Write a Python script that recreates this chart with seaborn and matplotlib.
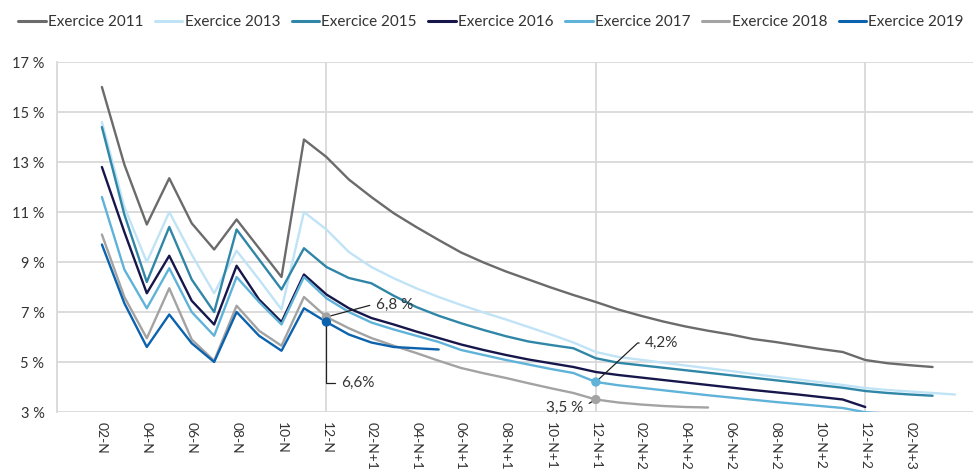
import pandas as pd
import seaborn as sns
import matplotlib.pyplot as plt
from matplotlib.lines import Line2D

# monthly values, first value = month 02-N
start_month = 2
ex2011 = [16.0, 12.9, 10.5, 12.35, 10.55, 9.5, 10.7, 9.55, 8.4, 13.9, 13.2, 12.3, 11.6, 10.95,
          10.4, 9.88, 9.38, 8.98, 8.62, 8.3, 7.98, 7.68, 7.4, 7.1, 6.85, 6.62, 6.42, 6.25, 6.1,
          5.92, 5.8, 5.66, 5.52, 5.4, 5.08, 4.95, 4.87, 4.8]
ex2013 = [14.6, 11.2, 9.0, 11.0, 9.3, 7.75, 9.45, 8.3, 7.1, 11.0, 10.3, 9.4, 8.8, 8.35, 7.95,
          7.6, 7.28, 6.98, 6.7, 6.4, 6.1, 5.78, 5.4, 5.2, 5.09, 4.97, 4.86, 4.75, 4.64, 4.52,
          4.41, 4.3, 4.19, 4.08, 3.96, 3.88, 3.82, 3.76, 3.7]
ex2015 = [14.4, 10.9, 8.2, 10.4, 8.3, 7.0, 10.3, 9.1, 7.9, 9.55, 8.8, 8.36, 8.15, 7.65, 7.2,
          6.85, 6.55, 6.28, 6.03, 5.82, 5.68, 5.55, 5.15, 4.97, 4.87, 4.77, 4.67, 4.57, 4.47,
          4.37, 4.27, 4.17, 4.07, 3.97, 3.84, 3.76, 3.7, 3.65]
ex2016 = [12.8, 10.2, 7.75, 9.25, 7.45, 6.5, 8.85, 7.5, 6.6, 8.5, 7.7, 7.15, 6.76, 6.5, 6.22,
          5.96, 5.7, 5.48, 5.28, 5.1, 4.95, 4.8, 4.6, 4.48, 4.38, 4.28, 4.18, 4.08, 3.98, 3.88,
          3.79, 3.7, 3.6, 3.5, 3.2]
ex2017 = [11.6, 8.7, 7.15, 8.75, 7.0, 6.05, 8.4, 7.4, 6.5, 8.4, 7.55, 7.0, 6.58, 6.3, 6.05,
          5.8, 5.48, 5.28, 5.08, 4.9, 4.72, 4.56, 4.2, 4.07, 3.97, 3.87, 3.77, 3.67, 3.58, 3.49,
          3.4, 3.32, 3.24, 3.16, 2.99, 2.93, 2.88]
ex2018 = [10.1, 7.6, 5.95, 7.95, 5.9, 5.05, 7.25, 6.25, 5.65, 7.6, 6.8, 6.35, 5.96, 5.65, 5.36,
          5.05, 4.76, 4.55, 4.36, 4.15, 3.95, 3.76, 3.5, 3.38, 3.3, 3.24, 3.2, 3.18]
ex2019 = [9.7, 7.35, 5.6, 6.9, 5.75, 5.0, 7.0, 6.05, 5.45, 7.15, 6.6, 6.1, 5.78, 5.6, 5.55, 5.5]

series_names = ['Exercice 2011', 'Exercice 2013', 'Exercice 2015', 'Exercice 2016',
                'Exercice 2017', 'Exercice 2018', 'Exercice 2019']
series_values = [ex2011, ex2013, ex2015, ex2016, ex2017, ex2018, ex2019]
colors = ['#6b6b6b', '#c0e3f6', '#2f86a6', '#16164a', '#5fb2d8', '#a3a3a3', '#0b62ad']

tick_months = list(range(2, 39, 2))
tick_labels = ['02-N', '04-N', '06-N', '08-N', '10-N', '12-N',
               '02-N+1', '04-N+1', '06-N+1', '08-N+1', '10-N+1', '12-N+1',
               '02-N+2', '04-N+2', '06-N+2', '08-N+2', '10-N+2', '12-N+2', '02-N+3']

# annotated points: (series, month, label)
callouts = [('Exercice 2018', 12, '6,8 %'), ('Exercice 2019', 12, '6,6%'),
            ('Exercice 2017', 24, '4,2%'), ('Exercice 2018', 24, '3,5 %')]

rows = []
for name, vals in zip(series_names, series_values):
    for i, v in enumerate(vals):
        rows.append({'exercice': name, 'mois': start_month + i, 'taux': v})
df = pd.DataFrame(rows)

sns.set_style('white')
plt.rcParams['font.family'] = ['Lato', 'DejaVu Sans']
grid_c = '#d9d9d9'
text_c = '#333333'

fig = plt.figure(figsize=(9.73, 4.71), dpi=100)
ax = fig.add_axes([57 / 973, 1 - 412 / 471, 1 - 57 / 973, 350 / 471])

palette = dict(zip(series_names, colors))
sns.lineplot(data=df, x='mois', y='taux', hue='exercice', hue_order=series_names,
             palette=palette, linewidth=1.7, estimator=None, legend=False, ax=ax)

pts = pd.DataFrame([{'exercice': s, 'mois': m, 'label': lab,
                     'taux': df[(df.exercice == s) & (df.mois == m)].taux.iloc[0]}
                    for s, m, lab in callouts])
sns.scatterplot(data=pts, x='mois', y='taux', hue='exercice', palette=palette,
                s=45, edgecolor='none', legend=False, ax=ax, zorder=5)

# label offsets (months, pct), alignment and leader angle
offsets = [(2.2, 0.48, 'left', 15), (0.65, -2.44, 'left', 90),
           (2.2, 1.56, 'left', 43), (-0.55, -0.34, 'right', 30)]
for (_, r), (dx, dy, ha, ang) in zip(pts.iterrows(), offsets):
    ax.annotate(r.label, xy=(r.mois, r.taux), xytext=(r.mois + dx, r.taux + dy),
                ha=ha, va='center', fontsize=11, color=text_c,
                arrowprops=dict(arrowstyle='-', color='#222222', lw=0.9,
                                connectionstyle=f'angle,angleA=0,angleB={ang},rad=0',
                                relpos=(0 if ha == 'left' else 1, 0.5),
                                shrinkA=2, shrinkB=0))

ax.set_xlim(0, 40.8)
ax.set_ylim(3, 17)
ax.set_yticks(range(3, 18, 2))
ax.set_yticklabels([f'{v} %' for v in range(3, 18, 2)])

# labels on major ticks, yearly grid + half-year marks on minor ticks
grid_months = [0, 6, 12, 18, 24, 30, 36]
ax.xaxis.remove_overlapping_locs = False
ax.set_xticks(tick_months)
ax.set_xticklabels(tick_labels, rotation=-90)
ax.set_xticks(grid_months, minor=True)
ax.tick_params(axis='x', which='major', length=0, pad=7, labelsize=10, labelcolor=text_c)
ax.tick_params(axis='x', which='minor', length=7, width=1.3, color=grid_c, direction='out')
ax.tick_params(axis='y', length=5, width=1.3, color=grid_c, pad=4, labelsize=10.5,
               labelcolor=text_c)

ax.grid(False, axis='x', which='major')
ax.grid(True, axis='y', which='major', color=grid_c, linewidth=1.3)
ax.grid(True, axis='x', which='minor', color=grid_c, linewidth=1.3)
for pos, tk in zip(grid_months, ax.xaxis.get_minor_ticks()):
    if pos % 12:
        tk.gridline.set_visible(False)
ax.set_axisbelow(True)
for side in ['top', 'right', 'bottom']:
    ax.spines[side].set_visible(False)
ax.spines['left'].set_color(grid_c)
ax.spines['left'].set_linewidth(1.3)
ax.set_xlabel('')
ax.set_ylabel('')

handles = [Line2D([], [], color=c, lw=2.2) for c in colors]
fig.legend(handles, series_names, loc='center', bbox_to_anchor=(491 / 973, 1 - 22 / 471),
           ncol=7, frameon=False, handlelength=1.8, handletextpad=0.15,
           columnspacing=0.75, fontsize=11, labelcolor=text_c)

fig.savefig('out.png', dpi=100)
